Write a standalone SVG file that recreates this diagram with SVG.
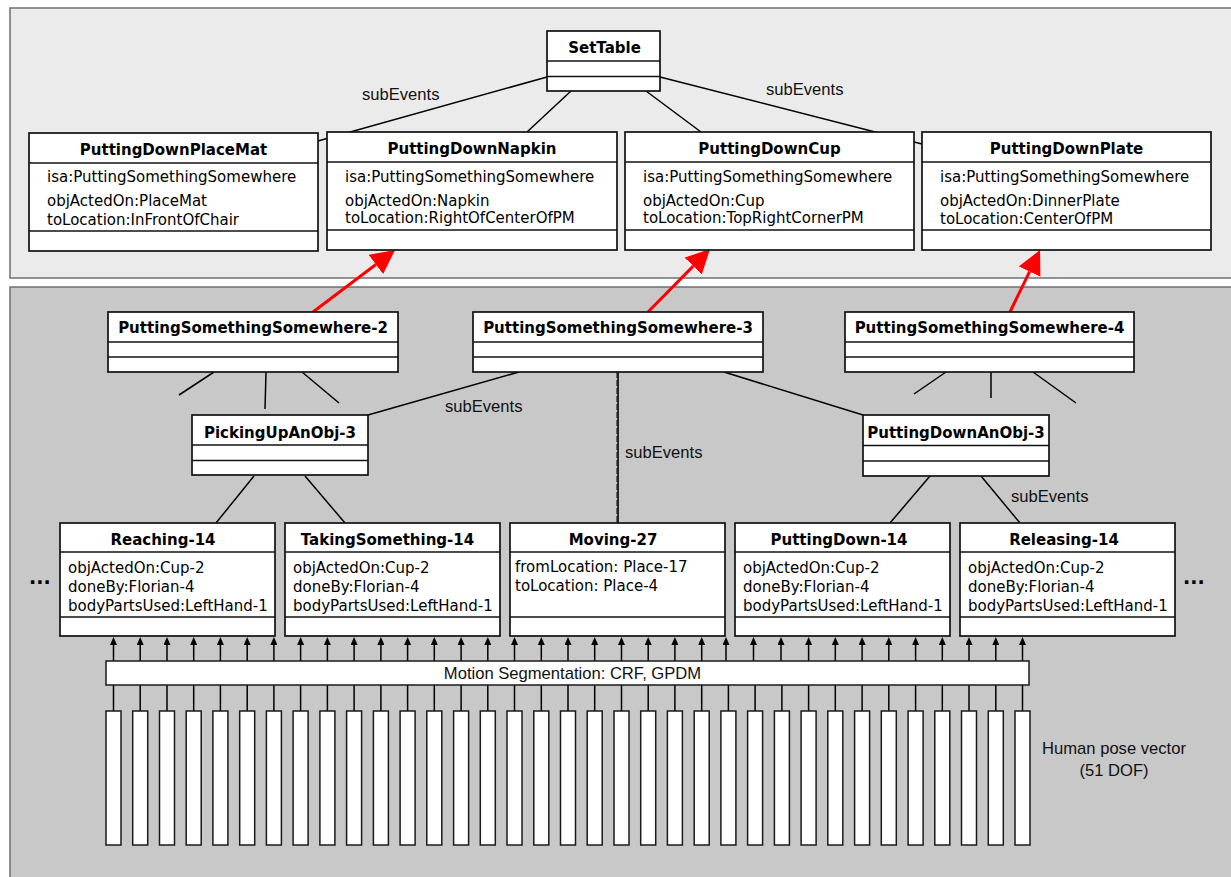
<svg xmlns="http://www.w3.org/2000/svg" width="1231" height="877" viewBox="0 0 1231 877">
  <style>
    .panel-top { fill: #ebebeb; stroke: #6f6f6f; stroke-width: 1.5; }
    .panel-low { fill: #c8c8c8; stroke: #6f6f6f; stroke-width: 1.5; }
    .box { fill: #ffffff; stroke: #111111; stroke-width: 1.7; }
    .sep { stroke: #111111; stroke-width: 1.7; }
    .link { stroke: #000000; stroke-width: 1.5; fill: none; }
    .red { stroke: #ff0000; stroke-width: 3; fill: none; }
    .up { stroke: #000000; stroke-width: 1.5; }
    .bar { fill: #ffffff; stroke: #1a1a1a; stroke-width: 1.5; }
    .hdr { font-family: "DejaVu Sans", sans-serif; font-weight: bold; font-size: 15px; fill: #000; text-anchor: middle; }
    .attr { font-family: "DejaVu Sans", sans-serif; font-size: 15px; fill: #000; }
    .lbl { font-family: "Liberation Sans", Arial, sans-serif; font-size: 16.6px; fill: #111; }
    .dots { font-family: "DejaVu Sans", sans-serif; font-weight: bold; font-size: 19px; fill: #000; }
  </style>
  <defs>
    <marker id="redhead" markerUnits="userSpaceOnUse" markerWidth="24" markerHeight="24" viewBox="0 0 24 24" refX="0" refY="12" orient="auto">
      <path d="M0,0 L24,12 L0,24 z" fill="#ff0000"/>
    </marker>
    <marker id="tip" markerUnits="userSpaceOnUse" markerWidth="8" markerHeight="7" viewBox="0 0 8 7" refX="0" refY="3.5" orient="auto">
      <path d="M0,0 L8,3.5 L0,7 z" fill="#000000"/>
    </marker>
  </defs>

  <!-- background panels -->
  <rect class="panel-top" x="10" y="8" width="1240" height="270"/>
  <rect class="panel-low" x="10" y="287" width="1240" height="610"/>

  <!-- connectors -->
  <g id="connectors">
    <line class="link" x1="547" y1="77" x2="318" y2="141"/>
    <line class="link" x1="660" y1="77" x2="922" y2="144"/>
    <line class="link" x1="571" y1="91" x2="527" y2="132"/>
    <line class="link" x1="646" y1="91" x2="701" y2="132"/>

    <line class="red" x1="313" y1="312" x2="375.9" y2="264.5" marker-end="url(#redhead)"/>
    <line class="red" x1="648" y1="312" x2="693.2" y2="266.1" marker-end="url(#redhead)"/>
    <line class="red" x1="1010" y1="312" x2="1029.6" y2="271.6" marker-end="url(#redhead)"/>

    <line class="link" x1="214" y1="372" x2="179" y2="395"/>
    <line class="link" x1="266" y1="372" x2="265" y2="409"/>
    <line class="link" x1="302" y1="372" x2="339" y2="403"/>
    <line class="link" x1="946" y1="372" x2="914" y2="394"/>
    <line class="link" x1="991" y1="372" x2="991" y2="398"/>
    <line class="link" x1="1033" y1="372" x2="1076" y2="403"/>

    <line class="link" x1="519" y1="372" x2="368" y2="415"/>
    <line class="link" x1="724" y1="372" x2="863" y2="415"/>
    <line class="link" x1="618" y1="372" x2="618" y2="523"/>
    <line x1="617.6" y1="372" x2="617.6" y2="523" stroke="#222" stroke-width="2.3" stroke-dasharray="6 2"/>

    <line class="link" x1="254" y1="476" x2="216" y2="523"/>
    <line class="link" x1="305" y1="476" x2="345" y2="523"/>
    <line class="link" x1="930" y1="476" x2="890" y2="523"/>
    <line class="link" x1="981" y1="476" x2="1020" y2="523"/>

    <text class="lbl" x="362" y="100">subEvents</text>
    <text class="lbl" x="766" y="95">subEvents</text>
    <text class="lbl" x="445" y="412">subEvents</text>
    <text class="lbl" x="625" y="458">subEvents</text>
    <text class="lbl" x="1011" y="502">subEvents</text>

    <!-- segmentation outputs up to the action boxes -->
    <g marker-end="url(#tip)">
      <line class="up" x1="113.5" y1="661" x2="113.5" y2="645"/>
      <line class="up" x1="140.2" y1="661" x2="140.2" y2="645"/>
      <line class="up" x1="167" y1="661" x2="167" y2="645"/>
      <line class="up" x1="193.7" y1="661" x2="193.7" y2="645"/>
      <line class="up" x1="220.4" y1="661" x2="220.4" y2="645"/>
      <line class="up" x1="247.2" y1="661" x2="247.2" y2="645"/>
      <line class="up" x1="273.9" y1="661" x2="273.9" y2="645"/>
      <line class="up" x1="300.6" y1="661" x2="300.6" y2="645"/>
      <line class="up" x1="327.4" y1="661" x2="327.4" y2="645"/>
      <line class="up" x1="354.1" y1="661" x2="354.1" y2="645"/>
      <line class="up" x1="380.9" y1="661" x2="380.9" y2="645"/>
      <line class="up" x1="407.6" y1="661" x2="407.6" y2="645"/>
      <line class="up" x1="434.3" y1="661" x2="434.3" y2="645"/>
      <line class="up" x1="461.1" y1="661" x2="461.1" y2="645"/>
      <line class="up" x1="487.8" y1="661" x2="487.8" y2="645"/>
      <line class="up" x1="514.5" y1="661" x2="514.5" y2="645"/>
      <line class="up" x1="541.3" y1="661" x2="541.3" y2="645"/>
      <line class="up" x1="568" y1="661" x2="568" y2="645"/>
      <line class="up" x1="594.7" y1="661" x2="594.7" y2="645"/>
      <line class="up" x1="621.5" y1="661" x2="621.5" y2="645"/>
      <line class="up" x1="648.2" y1="661" x2="648.2" y2="645"/>
      <line class="up" x1="674.9" y1="661" x2="674.9" y2="645"/>
      <line class="up" x1="701.7" y1="661" x2="701.7" y2="645"/>
      <line class="up" x1="726" y1="661" x2="726" y2="645"/>
      <line class="up" x1="753.5" y1="661" x2="753.5" y2="645"/>
      <line class="up" x1="781" y1="661" x2="781" y2="645"/>
      <line class="up" x1="808.6" y1="661" x2="808.6" y2="645"/>
      <line class="up" x1="835.3" y1="661" x2="835.3" y2="645"/>
      <line class="up" x1="862.1" y1="661" x2="862.1" y2="645"/>
      <line class="up" x1="888.8" y1="661" x2="888.8" y2="645"/>
      <line class="up" x1="915.6" y1="661" x2="915.6" y2="645"/>
      <line class="up" x1="942.3" y1="661" x2="942.3" y2="645"/>
      <line class="up" x1="969" y1="661" x2="969" y2="645"/>
      <line class="up" x1="995.8" y1="661" x2="995.8" y2="645"/>
      <line class="up" x1="1022.5" y1="661" x2="1022.5" y2="645"/>
    </g>

    <!-- pose vector components into the segmentation stage -->
    <g>
      <line class="up" x1="113.5" y1="685" x2="113.5" y2="711"/>
      <line class="up" x1="140.2" y1="685" x2="140.2" y2="711"/>
      <line class="up" x1="167" y1="685" x2="167" y2="711"/>
      <line class="up" x1="193.7" y1="685" x2="193.7" y2="711"/>
      <line class="up" x1="220.4" y1="685" x2="220.4" y2="711"/>
      <line class="up" x1="247.2" y1="685" x2="247.2" y2="711"/>
      <line class="up" x1="273.9" y1="685" x2="273.9" y2="711"/>
      <line class="up" x1="300.6" y1="685" x2="300.6" y2="711"/>
      <line class="up" x1="327.4" y1="685" x2="327.4" y2="711"/>
      <line class="up" x1="354.1" y1="685" x2="354.1" y2="711"/>
      <line class="up" x1="380.9" y1="685" x2="380.9" y2="711"/>
      <line class="up" x1="407.6" y1="685" x2="407.6" y2="711"/>
      <line class="up" x1="434.3" y1="685" x2="434.3" y2="711"/>
      <line class="up" x1="461.1" y1="685" x2="461.1" y2="711"/>
      <line class="up" x1="487.8" y1="685" x2="487.8" y2="711"/>
      <line class="up" x1="514.5" y1="685" x2="514.5" y2="711"/>
      <line class="up" x1="541.3" y1="685" x2="541.3" y2="711"/>
      <line class="up" x1="568" y1="685" x2="568" y2="711"/>
      <line class="up" x1="594.7" y1="685" x2="594.7" y2="711"/>
      <line class="up" x1="621.5" y1="685" x2="621.5" y2="711"/>
      <line class="up" x1="648.2" y1="685" x2="648.2" y2="711"/>
      <line class="up" x1="674.9" y1="685" x2="674.9" y2="711"/>
      <line class="up" x1="701.7" y1="685" x2="701.7" y2="711"/>
      <line class="up" x1="728.4" y1="685" x2="728.4" y2="711"/>
      <line class="up" x1="755.1" y1="685" x2="755.1" y2="711"/>
      <line class="up" x1="781.9" y1="685" x2="781.9" y2="711"/>
      <line class="up" x1="808.6" y1="685" x2="808.6" y2="711"/>
      <line class="up" x1="835.3" y1="685" x2="835.3" y2="711"/>
      <line class="up" x1="862.1" y1="685" x2="862.1" y2="711"/>
      <line class="up" x1="888.8" y1="685" x2="888.8" y2="711"/>
      <line class="up" x1="915.6" y1="685" x2="915.6" y2="711"/>
      <line class="up" x1="942.3" y1="685" x2="942.3" y2="711"/>
      <line class="up" x1="969" y1="685" x2="969" y2="711"/>
      <line class="up" x1="995.8" y1="685" x2="995.8" y2="711"/>
      <line class="up" x1="1022.5" y1="685" x2="1022.5" y2="711"/>
    </g>
  </g>

  <!-- top-level event -->
  <g id="SetTable">
    <rect class="box" x="547" y="31" width="113" height="60"/>
    <line class="sep" x1="547" y1="61" x2="660" y2="61"/>
    <line class="sep" x1="547" y1="76.5" x2="660" y2="76.5"/>
    <text class="hdr" x="604.5" y="53">SetTable</text>
  </g>

  <g id="PuttingDownPlaceMat">
    <rect class="box" x="29" y="133" width="289" height="118"/>
    <line class="sep" x1="29" y1="163" x2="318" y2="163"/>
    <line class="sep" x1="29" y1="231" x2="318" y2="231"/>
    <text class="hdr" x="173.5" y="155">PuttingDownPlaceMat</text>
    <text class="attr" x="47" y="182">isa:PuttingSomethingSomewhere</text>
    <text class="attr" x="47" y="205.5">objActedOn:PlaceMat</text>
    <text class="attr" x="47" y="224.5">toLocation:InFrontOfChair</text>
  </g>

  <g id="PuttingDownNapkin">
    <rect class="box" x="327" y="132" width="290" height="118"/>
    <line class="sep" x1="327" y1="162" x2="617" y2="162"/>
    <line class="sep" x1="327" y1="230" x2="617" y2="230"/>
    <text class="hdr" x="472" y="154">PuttingDownNapkin</text>
    <text class="attr" x="345" y="181.5">isa:PuttingSomethingSomewhere</text>
    <text class="attr" x="345" y="205.5">objActedOn:Napkin</text>
    <text class="attr" x="345" y="222.5">toLocation:RightOfCenterOfPM</text>
  </g>

  <g id="PuttingDownCup">
    <rect class="box" x="625" y="132" width="289" height="118"/>
    <line class="sep" x1="625" y1="162" x2="914" y2="162"/>
    <line class="sep" x1="625" y1="230" x2="914" y2="230"/>
    <text class="hdr" x="769.5" y="154">PuttingDownCup</text>
    <text class="attr" x="643" y="181.5">isa:PuttingSomethingSomewhere</text>
    <text class="attr" x="643" y="205.5">objActedOn:Cup</text>
    <text class="attr" x="643" y="222.5">toLocation:TopRightCornerPM</text>
  </g>

  <g id="PuttingDownPlate">
    <rect class="box" x="922" y="132" width="289" height="118"/>
    <line class="sep" x1="922" y1="162" x2="1211" y2="162"/>
    <line class="sep" x1="922" y1="230" x2="1211" y2="230"/>
    <text class="hdr" x="1066.5" y="154">PuttingDownPlate</text>
    <text class="attr" x="940" y="181.5">isa:PuttingSomethingSomewhere</text>
    <text class="attr" x="940" y="205.5">objActedOn:DinnerPlate</text>
    <text class="attr" x="940" y="224">toLocation:CenterOfPM</text>
  </g>

  <!-- observed instances -->
  <g id="PuttingSomethingSomewhere-2">
    <rect class="box" x="108" y="312" width="290" height="60"/>
    <line class="sep" x1="108" y1="342" x2="398" y2="342"/>
    <line class="sep" x1="108" y1="357" x2="398" y2="357"/>
    <text class="hdr" x="253" y="333">PuttingSomethingSomewhere-2</text>
  </g>

  <g id="PuttingSomethingSomewhere-3">
    <rect class="box" x="473" y="312" width="290" height="60"/>
    <line class="sep" x1="473" y1="342" x2="763" y2="342"/>
    <line class="sep" x1="473" y1="357" x2="763" y2="357"/>
    <text class="hdr" x="618" y="333">PuttingSomethingSomewhere-3</text>
  </g>

  <g id="PuttingSomethingSomewhere-4">
    <rect class="box" x="845" y="312" width="289" height="60"/>
    <line class="sep" x1="845" y1="342" x2="1134" y2="342"/>
    <line class="sep" x1="845" y1="357" x2="1134" y2="357"/>
    <text class="hdr" x="989.5" y="333">PuttingSomethingSomewhere-4</text>
  </g>

  <g id="PickingUpAnObj-3">
    <rect class="box" x="192" y="415" width="176" height="60"/>
    <line class="sep" x1="192" y1="445" x2="368" y2="445"/>
    <line class="sep" x1="192" y1="460.5" x2="368" y2="460.5"/>
    <text class="hdr" x="280" y="438">PickingUpAnObj-3</text>
  </g>

  <g id="PuttingDownAnObj-3">
    <rect class="box" x="863" y="415" width="186" height="61"/>
    <line class="sep" x1="863" y1="445.5" x2="1049" y2="445.5"/>
    <line class="sep" x1="863" y1="461" x2="1049" y2="461"/>
    <text class="hdr" x="956" y="438">PuttingDownAnObj-3</text>
  </g>

  <g id="Reaching-14">
    <rect class="box" x="60" y="523" width="215" height="113"/>
    <line class="sep" x1="60" y1="552" x2="275" y2="552"/>
    <line class="sep" x1="60" y1="617" x2="275" y2="617"/>
    <text class="hdr" x="163" y="545">Reaching-14</text>
    <text class="attr" x="68" y="572.5">objActedOn:Cup-2</text>
    <text class="attr" x="68" y="591.5">doneBy:Florian-4</text>
    <text class="attr" x="68" y="610.5">bodyPartsUsed:LeftHand-1</text>
  </g>

  <g id="TakingSomething-14">
    <rect class="box" x="285" y="523" width="215" height="113"/>
    <line class="sep" x1="285" y1="552" x2="500" y2="552"/>
    <line class="sep" x1="285" y1="617" x2="500" y2="617"/>
    <text class="hdr" x="387.5" y="545">TakingSomething-14</text>
    <text class="attr" x="293" y="572.5">objActedOn:Cup-2</text>
    <text class="attr" x="293" y="591.5">doneBy:Florian-4</text>
    <text class="attr" x="293" y="610.5">bodyPartsUsed:LeftHand-1</text>
  </g>

  <g id="Moving-27">
    <rect class="box" x="510" y="523" width="215" height="113"/>
    <line class="sep" x1="510" y1="552" x2="725" y2="552"/>
    <line class="sep" x1="510" y1="617" x2="725" y2="617"/>
    <text class="hdr" x="613" y="545">Moving-27</text>
    <text class="attr" x="515" y="571.5">fromLocation: Place-17</text>
    <text class="attr" x="515" y="590.5">toLocation: Place-4</text>
  </g>

  <g id="PuttingDown-14">
    <rect class="box" x="735" y="523" width="215" height="113"/>
    <line class="sep" x1="735" y1="552" x2="950" y2="552"/>
    <line class="sep" x1="735" y1="617" x2="950" y2="617"/>
    <text class="hdr" x="839" y="545">PuttingDown-14</text>
    <text class="attr" x="743" y="572.5">objActedOn:Cup-2</text>
    <text class="attr" x="743" y="591.5">doneBy:Florian-4</text>
    <text class="attr" x="743" y="610.5">bodyPartsUsed:LeftHand-1</text>
  </g>

  <g id="Releasing-14">
    <rect class="box" x="960" y="523" width="215" height="113"/>
    <line class="sep" x1="960" y1="552" x2="1175" y2="552"/>
    <line class="sep" x1="960" y1="617" x2="1175" y2="617"/>
    <text class="hdr" x="1064" y="545">Releasing-14</text>
    <text class="attr" x="968" y="572.5">objActedOn:Cup-2</text>
    <text class="attr" x="968" y="591.5">doneBy:Florian-4</text>
    <text class="attr" x="968" y="610.5">bodyPartsUsed:LeftHand-1</text>
  </g>

  <text class="dots" x="29" y="584">...</text>
  <text class="dots" x="1183" y="584">...</text>

  <g id="MotionSegmentation">
    <rect class="bar" x="106" y="661" width="923" height="24"/>
    <text class="lbl" x="572.5" y="679" text-anchor="middle">Motion Segmentation: CRF, GPDM</text>
  </g>

  <!-- 51-DOF pose vector, one bar per frame -->
  <g id="HumanPoseVector">
    <rect class="bar" x="106" y="711" width="15" height="134"/>
    <rect class="bar" x="132.7" y="711" width="15" height="134"/>
    <rect class="bar" x="159.5" y="711" width="15" height="134"/>
    <rect class="bar" x="186.2" y="711" width="15" height="134"/>
    <rect class="bar" x="212.9" y="711" width="15" height="134"/>
    <rect class="bar" x="239.7" y="711" width="15" height="134"/>
    <rect class="bar" x="266.4" y="711" width="15" height="134"/>
    <rect class="bar" x="293.1" y="711" width="15" height="134"/>
    <rect class="bar" x="319.9" y="711" width="15" height="134"/>
    <rect class="bar" x="346.6" y="711" width="15" height="134"/>
    <rect class="bar" x="373.4" y="711" width="15" height="134"/>
    <rect class="bar" x="400.1" y="711" width="15" height="134"/>
    <rect class="bar" x="426.8" y="711" width="15" height="134"/>
    <rect class="bar" x="453.6" y="711" width="15" height="134"/>
    <rect class="bar" x="480.3" y="711" width="15" height="134"/>
    <rect class="bar" x="507" y="711" width="15" height="134"/>
    <rect class="bar" x="533.8" y="711" width="15" height="134"/>
    <rect class="bar" x="560.5" y="711" width="15" height="134"/>
    <rect class="bar" x="587.2" y="711" width="15" height="134"/>
    <rect class="bar" x="614" y="711" width="15" height="134"/>
    <rect class="bar" x="640.7" y="711" width="15" height="134"/>
    <rect class="bar" x="667.4" y="711" width="15" height="134"/>
    <rect class="bar" x="694.2" y="711" width="15" height="134"/>
    <rect class="bar" x="720.9" y="711" width="15" height="134"/>
    <rect class="bar" x="747.6" y="711" width="15" height="134"/>
    <rect class="bar" x="774.4" y="711" width="15" height="134"/>
    <rect class="bar" x="801.1" y="711" width="15" height="134"/>
    <rect class="bar" x="827.8" y="711" width="15" height="134"/>
    <rect class="bar" x="854.6" y="711" width="15" height="134"/>
    <rect class="bar" x="881.3" y="711" width="15" height="134"/>
    <rect class="bar" x="908.1" y="711" width="15" height="134"/>
    <rect class="bar" x="934.8" y="711" width="15" height="134"/>
    <rect class="bar" x="961.5" y="711" width="15" height="134"/>
    <rect class="bar" x="988.3" y="711" width="15" height="134"/>
    <rect class="bar" x="1015" y="711" width="15" height="134"/>
    <text class="lbl" x="1114" y="754" text-anchor="middle">Human pose vector</text>
    <text class="lbl" x="1114" y="776" text-anchor="middle">(51 DOF)</text>
  </g>
</svg>
